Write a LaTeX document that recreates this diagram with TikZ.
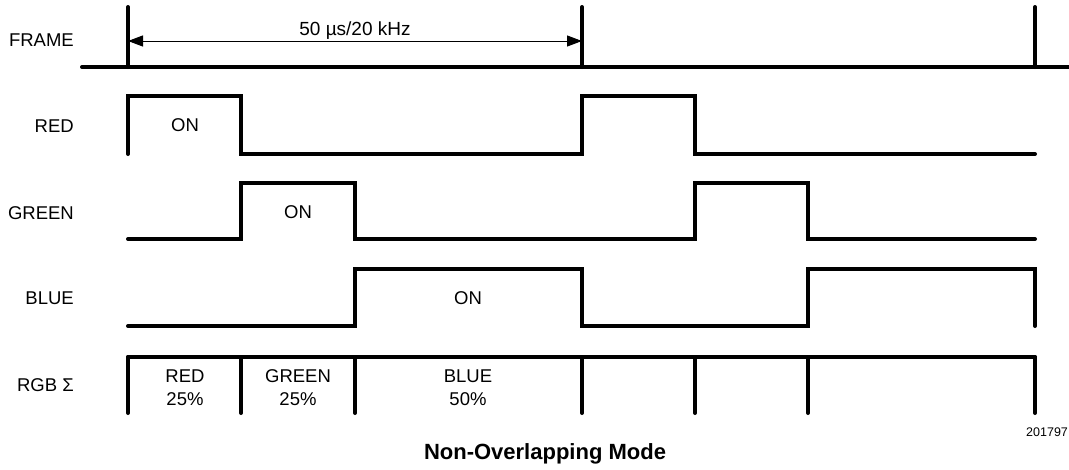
\documentclass[tikz,border=0pt]{standalone}
\usepackage{fontspec}
\setmainfont{Liberation Sans}
\usetikzlibrary{positioning,arrows.meta,calc}
\tikzset{>={Triangle[length=15pt,width=11pt]}}

\begin{document}
\begin{tikzpicture}[x=1pt, y=-1pt,
    sig/.style={line width=4pt, line cap=round, line join=miter},
    lbl/.style={anchor=east, inner sep=0pt, font=\fontsize{18.5}{22}\selectfont},
    txt/.style={inner sep=0pt, align=center, font=\fontsize{18.5}{23}\selectfont}]
    \useasboundingbox (0,0) rectangle (1069,469);
    % row labels
    \node[lbl] (frame) at (74,40) {FRAME};
    \node[lbl] (red) at (74,126) {RED};
    \node[lbl] (green) at (74,213) {GREEN};
    \node[lbl] (blue) at (74,298) {BLUE};
    \node[lbl] (rgb) at (74,385) {RGB Σ};
    % frame
    \draw[sig] (82,67) -- (1075,67);
    \foreach \x in {128,582,1035}
        \draw[sig] (\x,7) -- (\x,67);
    \coordinate (f0) at (128,41);
    \coordinate (f1) at (582,41);
    \draw[<->, line width=1pt] (f0) -- (f1)
        node[midway, above=1pt, inner sep=0pt, font=\fontsize{19}{22}\selectfont] (period) {50 µs/20 kHz};
    % red
    \draw[sig] (128,154) -- (128,96) -- (241,96) -- (241,154) -- (582,154)
        -- (582,96) -- (695,96) -- (695,154) -- (1035,154);
    \node[txt] (ron) at (185,125) {ON};
    % green
    \draw[sig] (128,239) -- (241,239) -- (241,183) -- (355,183) -- (355,239)
        -- (695,239) -- (695,183) -- (808,183) -- (808,239) -- (1035,239);
    \node[txt] (gon) at (298,212) {ON};
    % blue
    \draw[sig] (128,326) -- (355,326) -- (355,269) -- (582,269) -- (582,326)
        -- (808,326) -- (808,269) -- (1035,269) -- (1035,326);
    \node[txt] (bon) at (468,298) {ON};
    % sum
    \draw[sig] (128,357) -- (1035,357);
    \foreach \x in {128,241,355,582,695,808,1035}
        \draw[sig] (\x,357) -- (\x,413);
    \node[txt] (rsum) at (185,388) {RED\\25\%};
    \node[txt] (gsum) at (298,388) {GREEN\\25\%};
    \node[txt] (bsum) at (468,388) {BLUE\\50\%};
    \node[anchor=west, inner sep=0pt, font=\fontsize{12.5}{14}\selectfont] (code) at (1026,432) {201797};
    \node[inner sep=0pt, font=\fontsize{22}{26}\selectfont\bfseries] (title) at (545,454) {Non-Overlapping Mode};
\end{tikzpicture}
\end{document}
